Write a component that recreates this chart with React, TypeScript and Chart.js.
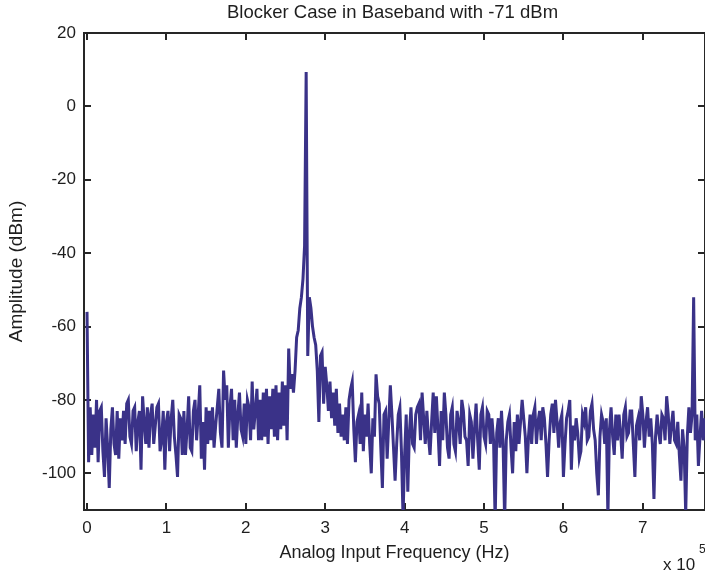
import { useEffect, useRef } from 'react';
import { Chart, registerables } from 'chart.js';

Chart.register(...registerables);

// FFT bin spacing of the spectrum (Hz)
const binHz = 2000;

// Amplitude (dBm) per frequency bin, split by frequency region
const ampSegA = [
  -56, -97, -82, -95, -84, -93, -80, -97, -83, -82,
  -94, -101, -85, -93, -104, -88, -82, -92, -95, -83,
  -96, -85, -91, -83, -92, -81, -80, -90, -92, -83,
  -82, -94, -86, -83, -99, -79, -86, -92, -82, -93,
  -84, -81, -92, -87, -82, -81, -94, -91, -83, -99,
  -86, -83, -94, -85, -80,
];
const ampSegB = [
  -90, -95, -101, -84, -85, -95, -83, -95, -88, -79,
  -93, -94, -83, -80, -91, -84, -76, -96, -86, -99,
  -82, -92, -83, -91, -82, -93, -87, -82, -77, -89,
  -93, -72, -80, -76, -93, -82, -77, -91, -80, -93,
  -84, -78, -88, -90, -81, -92, -80, -82, -91, -75,
  -88,
];
const ampSegC = [
  -83, -77, -91, -80, -91, -78, -90, -77, -92, -79,
  -88, -77, -90, -76, -91, -78, -88, -75, -87, -76,
  -91, -66, -77, -73, -78, -72, -63, -61, -55, -52,
  -47, -38, 9.4, -68, -52, -55, -60, -63, -65, -72,
  -86, -68, -67, -81, -71, -76, -83, -75, -85, -78,
  -87, -77, -89, -81, -90, -84, -91,
];
const ampSegD = [
  -82, -92, -80, -77, -75, -88, -97, -86, -84, -92,
  -78, -94, -84, -90, -81, -92, -100, -85, -90, -73,
  -79, -81, -93, -104, -84, -83, -96, -86, -76, -84,
  -93, -102, -92, -84, -82, -94, -112, -95, -84, -105,
  -89, -82, -92, -93, -84, -82, -81, -91, -78, -85,
  -92, -83, -90,
];
const ampSegE = [
  -95, -86, -78, -89, -79, -88, -98, -83, -91, -78,
  -84, -93, -96, -84, -82, -92, -94, -83, -86, -92,
  -80, -83, -90, -91, -98, -84, -86, -96, -88, -81,
  -91, -99, -84, -82, -90, -92, -83, -84, -92, -85,
  -91, -113, -89, -85, -93, -83, -92, -113, -91, -86,
  -84, -93, -100,
];
const ampSegF = [
  -86, -94, -84, -92, -86, -80, -85, -90, -100, -90,
  -84, -92, -84, -82, -92, -86, -83, -91, -82, -85,
  -92, -101, -91, -84, -81, -89, -80, -86, -93, -86,
  -84, -101, -92, -85, -83, -80, -99, -87, -91, -85,
  -89, -96, -94, -84, -86, -82, -91, -90, -83, -81,
  -88, -91, -100, -106, -90, -84, -86,
];
const ampSegG = [
  -92, -85, -112, -88, -82, -90, -95, -84, -91, -84,
  -89, -96, -84, -82, -90, -89, -83, -83, -92, -101,
  -87, -85, -91, -79, -84, -93, -86, -82, -90, -85,
  -92, -107, -90, -84, -89, -92, -84, -85, -91, -79,
  -84, -92, -87, -83, -91, -92, -86, -95, -102, -88,
  -93, -111, -90, -82, -89, -84, -52, -91, -84, -98,
  -90, -83, -91, -85,
];

const amplitudeDbm = [
  ...ampSegA, ...ampSegB, ...ampSegC, ...ampSegD, ...ampSegE, ...ampSegF, ...ampSegG,
];

const xTickValues = [0, 100000, 200000, 300000, 400000, 500000, 600000, 700000];
const yTickValues = [-100, -80, -60, -40, -20, 0, 20];
const xMin = -3800;
const xMax = 778300;
const yMin = -110;
const yMax = 20;

const titleText = 'Blocker Case in Baseband with -71 dBm';
const xLabel = 'Analog Input Frequency (Hz)';
const yLabel = 'Amplitude (dBm)';
const exponentBase = 'x 10';
const exponentPower = '5';

const FONT = "'Liberation Sans', Arial, Helvetica, sans-serif";
const INK = '#1e1e1e';
const LINE = '#3a3288';

const framePlugin = {
  id: 'matlabFrame',
  beforeDatasetsDraw(chart: any) {
    const { ctx, chartArea: a, scales } = chart;
    ctx.save();
    ctx.strokeStyle = '#262626';
    ctx.lineWidth = 2;
    ctx.strokeRect(a.left, a.top, a.right - a.left, a.bottom - a.top);
    ctx.beginPath();
    for (const v of xTickValues) {
      const x = Math.round(scales.x.getPixelForValue(v));
      ctx.moveTo(x, a.bottom);
      ctx.lineTo(x, a.bottom - 7);
      ctx.moveTo(x, a.top);
      ctx.lineTo(x, a.top + 7);
    }
    for (const v of yTickValues) {
      const y = Math.round(scales.y.getPixelForValue(v));
      ctx.moveTo(a.left, y);
      ctx.lineTo(a.left + 7, y);
      ctx.moveTo(a.right, y);
      ctx.lineTo(a.right - 7, y);
    }
    ctx.stroke();
    ctx.restore();
  },
  afterDraw(chart: any) {
    const { ctx, chartArea: a } = chart;
    ctx.save();
    ctx.fillStyle = INK;
    ctx.font = `18.5px ${FONT}`;
    ctx.textAlign = 'center';
    ctx.textBaseline = 'middle';
    ctx.fillText(titleText, (a.left + a.right) / 2 - 2, 13);
    ctx.font = `17px ${FONT}`;
    ctx.textAlign = 'left';
    ctx.fillText(exponentBase, 663, 565);
    ctx.font = `12px ${FONT}`;
    ctx.fillText(exponentPower, 699, 550);
    ctx.restore();
  },
};

export default function App() {
  const ref = useRef<HTMLCanvasElement | null>(null);

  useEffect(() => {
    if (!ref.current) return;
    Chart.defaults.font.family = FONT;
    const chart = new Chart(ref.current, {
      type: 'line',
      data: {
        datasets: [
          {
            data: amplitudeDbm.map((v, i) => ({ x: i * binHz, y: v })),
            borderColor: LINE,
            borderWidth: 3,
            pointRadius: 0,
            tension: 0,
            fill: false,
          },
        ],
      },
      options: {
        animation: false,
        responsive: false,
        devicePixelRatio: 1,
        layout: { padding: { left: 0, right: 15, top: 33, bottom: 0 } },
        plugins: {
          legend: { display: false },
          title: { display: false },
          tooltip: { enabled: false },
        },
        scales: {
          x: {
            type: 'linear',
            min: xMin,
            max: xMax,
            grid: { display: false, drawTicks: false },
            border: { display: false },
            afterBuildTicks: (axis: any) => {
              axis.ticks = xTickValues.map((v) => ({ value: v }));
            },
            afterFit: (scale: any) => {
              scale.height = 63;
            },
            ticks: {
              autoSkip: false,
              maxRotation: 0,
              padding: 8,
              color: INK,
              font: { size: 17 },
              callback: (v: any) => String(Number(v) / 100000),
            },
            title: {
              display: true,
              text: xLabel,
              color: INK,
              font: { size: 18 },
              padding: { top: 0, bottom: 9 },
            },
          },
          y: {
            type: 'linear',
            min: yMin,
            max: yMax,
            grid: { display: false, drawTicks: false },
            border: { display: false },
            afterBuildTicks: (axis: any) => {
              axis.ticks = yTickValues.map((v) => ({ value: v }));
            },
            afterFit: (scale: any) => {
              scale.width = 84;
            },
            ticks: {
              autoSkip: false,
              padding: 8,
              color: INK,
              font: { size: 17 },
            },
            title: {
              display: true,
              text: yLabel,
              color: INK,
              font: { size: 19 },
              padding: { top: 5, bottom: 0 },
            },
          },
        },
      },
      plugins: [framePlugin],
    } as any);
    return () => chart.destroy();
  }, []);

  return (
    <div
      style={{
        position: 'fixed',
        left: 0,
        top: 0,
        width: 720,
        height: 573,
        overflow: 'hidden',
        background: '#fff',
      }}
    >
      <canvas ref={ref} width={720} height={573} style={{ display: 'block', width: 720, height: 573 }} />
    </div>
  );
}
